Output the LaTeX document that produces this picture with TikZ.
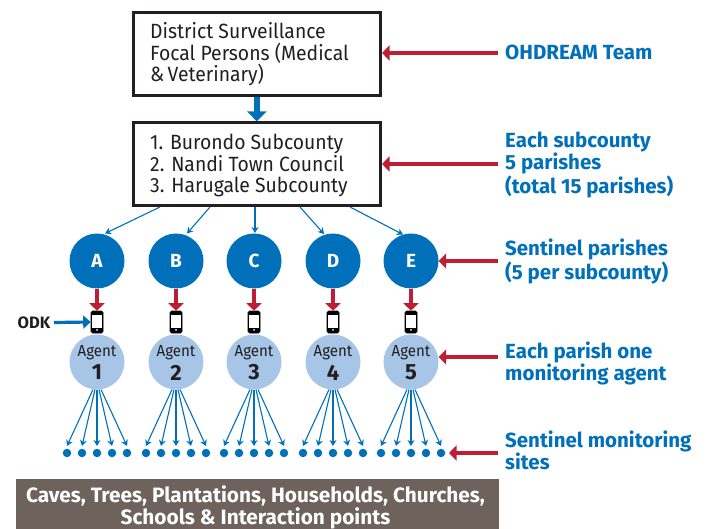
\documentclass[tikz,border=0pt]{standalone}
\usepackage{fontspec}
\setmainfont[Numbers=Lining]{Fira Sans}
\newfontfamily\narrowfont[Numbers=Lining,FakeStretch=0.94]{Fira Sans}
\usetikzlibrary{arrows.meta}
\definecolor{ohblue}{HTML}{0070BB}
\definecolor{ohred}{HTML}{BE1E34}
\definecolor{ohlight}{HTML}{A7C5E7}
\definecolor{ohgrey}{HTML}{6E625C}
\definecolor{ohtext}{HTML}{231F20}
\tikzset{
  x=1pt,y=-1pt,
  mainbox/.style={draw=ohtext,line width=3pt,fill=white,minimum width=247.5pt,minimum height=83pt,inner sep=0pt},
  boxtext/.style={text=ohtext,font=\narrowfont\fontsize{20.6}{21.5}\selectfont,align=left,anchor=west,inner sep=0pt},
  parish/.style={circle,fill=ohblue,minimum size=55pt,inner sep=0pt,text=white,font=\fontsize{19}{20}\selectfont\bfseries},
  agent/.style={circle,fill=ohlight,minimum size=55pt,inner sep=0pt,text=ohtext,align=center},
  phonebody/.style={draw=black,line width=0.6pt,fill=black,rounded corners=1.5pt,minimum width=12pt,minimum height=22pt,inner sep=0pt},
  sitedot/.style={circle,fill=ohblue,minimum size=8.5pt,inner sep=0pt},
  redarrow/.style={draw=ohred,line width=3.4pt,-{Triangle[width=15pt,length=7.5pt]}},
  bluebig/.style={draw=ohblue,line width=5.5pt,-{Triangle[width=19pt,length=10pt]}},
  bluemid/.style={draw=ohblue,line width=3.2pt,-{Triangle[width=13pt,length=7.5pt]}},
  thinarrow/.style={draw=ohblue,line width=1.1pt,-{Stealth[width=7pt,length=6pt]}},
  sidelabel/.style={text=ohblue,font=\fontsize{20.5}{22}\selectfont\bfseries,align=left,anchor=west,inner sep=0pt},
}
\begin{document}
\begin{tikzpicture}
\useasboundingbox (0,0) rectangle (709,529);
% boxes
\node[mainbox] (district) at (256.8,53.7) {};
\node[boxtext] (districttext) at (150,54.5) {District Surveillance\\Focal Persons (Medical\\\&\,Veterinary)};
\node[mainbox] (subcounty) at (256.8,164.4) {};
\node[boxtext] (subcountytext) at (150,165.5) {1. Burondo Subcounty\\2. Nandi Town Council\\3. Harugale Subcounty};
\draw[bluebig] (district.south) -- (subcounty.north);
% parishes, phones, agents
\foreach \n/\l/\d/\xx in {a/A/1/97,b/B/2/176,c/C/3/254,d/D/4/333,e/E/5/411}{
  \node[parish] (p\n) at (\xx,261) {\l};
  \node[phonebody] (ph\n) at (\xx,322) {};
  \fill[white] (\xx-4.8,314.5) rectangle (\xx+4.8,327.5);
  \fill[white] (\xx,329.8) circle (1pt);
  \node[agent] (ag\n) at (\xx,362) {};
  \node[text=ohtext,font=\narrowfont\fontsize{16}{18}\selectfont,inner sep=0pt] (agl\n) at (\xx,352.5) {Agent};
  \node[text=ohtext,font=\fontsize{22}{22}\selectfont\bfseries,inner sep=0pt] (agn\n) at (\xx,372.5) {\d};
  \draw[redarrow] (p\n.south) -- (ph\n.north);
  \foreach \k/\dx/\sx in {1/-30/-4,2/-15/-2,3/0/0,4/15/2,5/30/4}{
    \node[sitedot] (s\n\k) at (\xx+\dx,453) {};
    \coordinate (st\n\k) at (\xx+\sx,389.5);
    \coordinate (en\n\k) at (\xx+\dx,446);
    \draw[thinarrow] (st\n\k) -- (en\n\k);
  }
}
% box to parish connectors
\foreach \n/\sx/\ex/\ey in {a/160/105/233.5,b/210/187/233.5,c/255/255/233,d/300/324/234,e/350/403/234.5}{
  \coordinate (bs\n) at (\sx,207);
  \coordinate (pe\n) at (\ex,\ey);
  \draw[thinarrow] (bs\n) -- (pe\n);
}
% ODK
\node[text=ohtext,font=\fontsize{16.5}{16}\selectfont\bfseries,anchor=west,inner sep=0pt] (odk) at (17.5,322.5) {ODK};
\coordinate (odkstart) at (54,322.5);
\draw[bluemid] (odkstart) -- (pha.west);
% right labels
\node[sidelabel] (l1) at (505,52.5) {OHDREAM Team};
\node[sidelabel] (l2) at (505,165) {Each subcounty\\5 parishes\\(total 15 parishes)};
\node[sidelabel] (l3) at (505,261.5) {Sentinel parishes\\(5 per subcounty)};
\node[sidelabel] (l4) at (505,363) {Each parish one\\monitoring agent};
\node[sidelabel] (l5) at (505,450.5) {Sentinel monitoring\\sites};
\coordinate (r1) at (498,53);
\coordinate (r2) at (498,164);
\coordinate (r3) at (498,261);
\coordinate (r4) at (498,357);
\coordinate (r5) at (498,453);
\coordinate (r5end) at (449,453);
\draw[redarrow] (r1) -- (district.east |- r1);
\draw[redarrow] (r2) -- (subcounty.east |- r2);
\draw[redarrow] (r3) -- (pe.east);
\draw[redarrow] (r4) -- (age.east |- r4);
\draw[redarrow] (r5) -- (r5end);
% bottom band
\node[fill=ohgrey,minimum width=483pt,minimum height=50pt,inner sep=0pt] (band) at (257.5,504) {};
\node[text=white,inner sep=0pt,align=center,font=\fontsize{20.8}{21.5}\selectfont\bfseries] (bandtext) at (255.5,507.5) {Caves, Trees, Plantations, Households, Churches,\\Schools \& Interaction points};
\end{tikzpicture}
\end{document}
